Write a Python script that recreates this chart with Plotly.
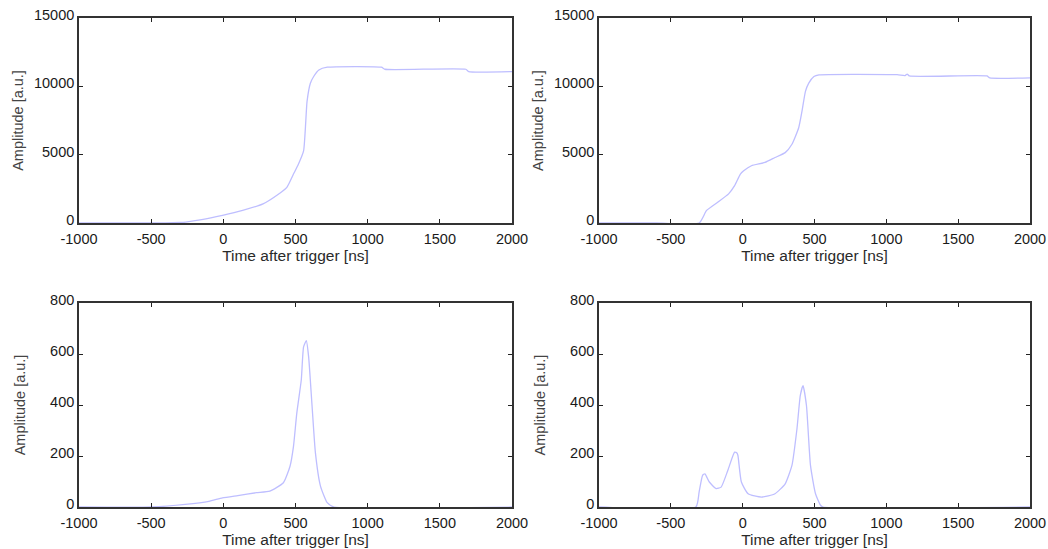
import plotly.graph_objects as go

# ---- data ----
t_a = [-1000, -800, -600, -400, -300, -260, -150, -6, 134, 275, 369, 440, 486, 520, 556, 580, 603, 626, 662, 720, 1095, 1120, 1680, 1700, 2000]
amp_a = [0, 0, 0, 10, 40, 70, 240, 556, 920, 1400, 2010, 2610, 3580, 4300, 5275, 8900, 10230, 10720, 11200, 11400, 11400, 11250, 11250, 11080, 11080]

t_b = [-1000, -600, -303, -251, -174, -98, -56, -16, 7, 61, 155, 225, 296, 343, 390, 413, 437, 460, 496, 531, 1075, 1130, 1145, 1160, 1700, 1720, 2000]
amp_b = [0, 0, 0, 920, 1520, 2130, 2730, 3580, 3820, 4190, 4430, 4790, 5150, 5760, 6970, 8180, 9630, 10230, 10720, 10840, 10850, 10780, 10900, 10760, 10760, 10620, 10620]

t_c = [-1000, -500, -264, -100, -6, 100, 228, 322, 416, 462, 486, 509, 540, 556, 575, 591, 615, 638, 673, 720, 767, 2000]
amp_c = [0, 0, 10, 22, 36, 45, 56, 62, 95, 160, 238, 368, 498, 628, 652, 589, 394, 212, 82, 17, 0, 0]

t_d = [-1000, -326, -303, -279, -263, -232, -185, -150, -103, -56, -40, -33, -9, 38, 131, 225, 296, 343, 378, 401, 420, 444, 472, 507, 542, 560, 2000]
amp_d = [0, 0, 59, 124, 130, 98, 72, 78, 144, 215, 212, 202, 98, 52, 39, 52, 91, 163, 307, 437, 476, 398, 163, 52, 7, 0, 0]

x_ticks = [-1000, -500, 0, 500, 1000, 1500, 2000]
x_ticklabels = ["-1000", "-500", "0", "500", "1000", "1500", "2000"]
y_ticks_top = [0, 5000, 10000, 15000]
y_ticklabels_top = ["0", "5000", "10000", "15000"]
y_ticks_bottom = [0, 200, 400, 600, 800]
y_ticklabels_bottom = ["0", "200", "400", "600", "800"]

x_title = "Time after trigger [ns]"
y_title = "Amplitude [a.u.]"

LINE = "rgb(190,190,255)"
W, H = 1048, 549

fig = go.Figure()
series = [(t_a, amp_a, "x", "y"), (t_b, amp_b, "x2", "y2"),
          (t_c, amp_c, "x3", "y3"), (t_d, amp_d, "x4", "y4")]
for t, a, xa, ya in series:
    fig.add_trace(go.Scatter(x=t, y=a, mode="lines", xaxis=xa, yaxis=ya,
                             line=dict(color=LINE, width=1.3, shape="spline", smoothing=0.5),
                             showlegend=False, hoverinfo="skip"))

def px_dom_x(a, b):
    return [a / W, b / W]

def px_dom_y(top, bottom):
    return [1 - bottom / H, 1 - top / H]

FAM = "Liberation Sans, Arial, sans-serif"
font_tick = dict(family=FAM, size=14.5, color="#1a1a1a")
font_xtitle = dict(family=FAM, size=15.5, color="#2a2a2a")
font_ytitle = dict(family=FAM, size=14.5, color="#444")

def xaxis(domain, anchor, standoff):
    return dict(domain=domain, anchor=anchor, range=[-1000, 2000],
                tickmode="array", tickvals=x_ticks, ticktext=x_ticklabels,
                ticks="inside", ticklen=4, tickwidth=1.2, tickcolor="#222",
                showline=True, linecolor="#333", linewidth=1.6, mirror="allticks",
                showgrid=False, zeroline=False, tickfont=font_tick, automargin=False,
                ticklabelstandoff=2,
                title=dict(text=x_title, font=font_xtitle, standoff=standoff))

def yaxis(domain, anchor, rng, vals, labels, standoff):
    return dict(domain=domain, anchor=anchor, range=rng,
                tickmode="array", tickvals=vals, ticktext=labels,
                ticks="inside", ticklen=4, tickwidth=1.2, tickcolor="#222",
                showline=True, linecolor="#333", linewidth=1.6, mirror="allticks",
                showgrid=False, zeroline=False, tickfont=font_tick, automargin=False,
                ticklabelshift=-3,
                title=dict(text=y_title, font=font_ytitle, standoff=standoff))

L1, R1, L2, R2 = 79, 512, 599, 1030
T1, B1, T2, B2 = 18, 223, 303, 507

fig.update_layout(
    width=W, height=H, margin=dict(l=0, r=0, t=0, b=0, autoexpand=False),
    paper_bgcolor="white", plot_bgcolor="white", showlegend=False,
    xaxis=xaxis(px_dom_x(L1, R1), "y", 0),
    yaxis=yaxis(px_dom_y(T1, B1), "x", [0, 15000], y_ticks_top, y_ticklabels_top, 7),
    xaxis2=xaxis(px_dom_x(L2, R2), "y2", 0),
    yaxis2=yaxis(px_dom_y(T1, B1), "x2", [0, 15000], y_ticks_top, y_ticklabels_top, 7),
    xaxis3=xaxis(px_dom_x(L1, R1), "y3", 2),
    yaxis3=yaxis(px_dom_y(T2, B2), "x3", [0, 800], y_ticks_bottom, y_ticklabels_bottom, 21),
    xaxis4=xaxis(px_dom_x(L2, R2), "y4", 2),
    yaxis4=yaxis(px_dom_y(T2, B2), "x4", [0, 800], y_ticks_bottom, y_ticklabels_bottom, 21),
)
fig.write_html("out.html")
